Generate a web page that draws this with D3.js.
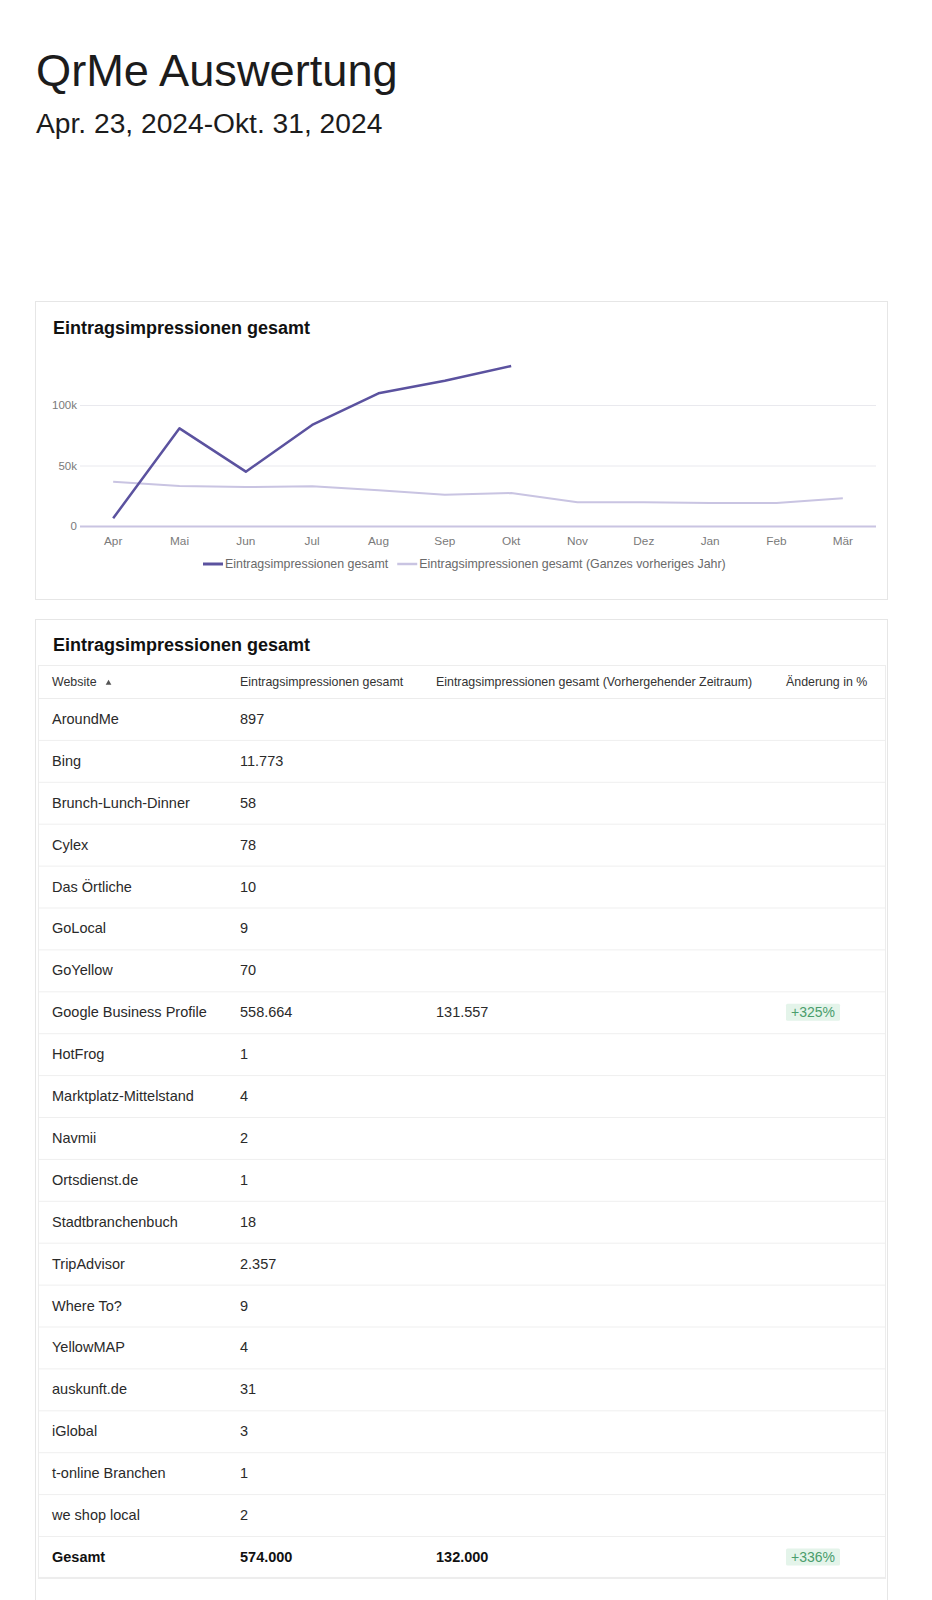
<!DOCTYPE html>
<html>
<head>
<meta charset="utf-8">
<script src="https://cdn.jsdelivr.net/npm/d3@7"></script>
<style>
  html, body { margin: 0; padding: 0; background: #fff; }
  svg { display: block; font-family: "Liberation Sans", Arial, sans-serif; }
</style>
</head>
<body>
<svg id="page" width="932" height="1600"></svg>
<script>
// ---------- DATA ----------
const pageTitle = "QrMe Auswertung";
const pageSubtitle = "Apr. 23, 2024-Okt. 31, 2024";
const chartTitle = "Eintragsimpressionen gesamt";
const months = ["Apr","Mai","Jun","Jul","Aug","Sep","Okt","Nov","Dez","Jan","Feb","Mär"];
const currentSeries = [6400, 80700, 44900, 83500, 109700, 120000, 132200];
const previousYearSeries = [36600, 33000, 32200, 32800, 29500, 25900, 27200, 19600, 19600, 19000, 19000, 22900];
const yTicks = [0, 50000, 100000];
const legendLabels = ["Eintragsimpressionen gesamt", "Eintragsimpressionen gesamt (Ganzes vorheriges Jahr)"];

const tableTitle = "Eintragsimpressionen gesamt";
const tableHeaders = ["Website", "Eintragsimpressionen gesamt", "Eintragsimpressionen gesamt (Vorhergehender Zeitraum)", "Änderung in %"];
const websites = ["AroundMe","Bing","Brunch-Lunch-Dinner","Cylex","Das Örtliche","GoLocal","GoYellow","Google Business Profile","HotFrog","Marktplatz-Mittelstand","Navmii","Ortsdienst.de","Stadtbranchenbuch","TripAdvisor","Where To?","YellowMAP","auskunft.de","iGlobal","t-online Branchen","we shop local"];
const impressions = [897, 11773, 58, 78, 10, 9, 70, 558664, 1, 4, 2, 1, 18, 2357, 9, 4, 31, 3, 1, 2];
const previousPeriod = [null, null, null, null, null, null, null, 131557, null, null, null, null, null, null, null, null, null, null, null, null];
const changeLabels = [null, null, null, null, null, null, null, "+325%", null, null, null, null, null, null, null, null, null, null, null, null];
const totalLabel = "Gesamt";
const totalImpressions = 574000;
const totalPrevious = 132000;
const totalChange = "+336%";

// ---------- SETUP ----------
const de = d3.formatLocale({decimal: ",", thousands: ".", grouping: [3], currency: ["", " €"]});
const fmt = de.format(",d");
const svg = d3.select("#page");

const C = {
  dark: "#5b529f",
  light: "#c9c4e2",
  grid: "#e9e9ee",
  axisText: "#7a7a7a",
  text: "#2a2a2a",
  border: "#e6e6e6"
};

// ---------- PAGE HEADER ----------
svg.append("text").attr("x", 36).attr("y", 86)
  .attr("font-size", 45.2).attr("fill", "#1c1c1c").text(pageTitle);
svg.append("text").attr("x", 36).attr("y", 133)
  .attr("font-size", 28.2).attr("fill", "#1c1c1c").text(pageSubtitle);

// ---------- CHART CARD ----------
svg.append("rect").attr("x", 35.5).attr("y", 301.5).attr("width", 852).attr("height", 298)
  .attr("fill", "#fff").attr("stroke", C.border);
svg.append("text").attr("x", 53).attr("y", 334).attr("font-size", 18).attr("font-weight", "bold")
  .attr("fill", "#111").text(chartTitle);

const x = d3.scaleBand().domain(months).range([80, 876]);
const y = d3.scaleLinear().domain([0, 150000]).range([526, 344.5]);

const yAxis = d3.axisLeft(y).tickValues(yTicks)
  .tickFormat(d => d === 0 ? "0" : (d / 1000) + "k")
  .tickSize(-(876 - 80)).tickPadding(3);
const gy = svg.append("g").attr("transform", "translate(80,0)").call(yAxis);
gy.select(".domain").remove();
gy.selectAll(".tick line").attr("stroke", C.grid).attr("stroke-width", 1);
gy.selectAll(".tick").filter(d => d === 0).select("line")
  .attr("stroke", C.light).attr("stroke-width", 2);
gy.selectAll(".tick text").attr("fill", C.axisText).attr("font-size", 11.5)
  .attr("font-family", "Liberation Sans, Arial, sans-serif");

const xAxis = d3.axisBottom(x).tickSize(0).tickPadding(10);
const gx = svg.append("g").attr("transform", "translate(0,527)").call(xAxis);
gx.select(".domain").remove();
gx.selectAll(".tick text").attr("fill", C.axisText).attr("font-size", 11.8)
  .attr("font-family", "Liberation Sans, Arial, sans-serif");

const line = d3.line().x((d, i) => x(months[i]) + x.bandwidth() / 2).y(d => y(d));
svg.append("path").datum(previousYearSeries).attr("d", line)
  .attr("fill", "none").attr("stroke", C.light).attr("stroke-width", 2).attr("stroke-linejoin", "round");
svg.append("path").datum(currentSeries).attr("d", line)
  .attr("fill", "none").attr("stroke", C.dark).attr("stroke-width", 2.5).attr("stroke-linejoin", "round");

// legend
const legendY = 564;
let lx = 203;
[C.dark, C.light].forEach((col, i) => {
  svg.append("line").attr("x1", lx).attr("x2", lx + 20).attr("y1", legendY).attr("y2", legendY)
    .attr("stroke", col).attr("stroke-width", i === 0 ? 3 : 2.5);
  const t = svg.append("text").attr("x", lx + 22).attr("y", legendY + 4.3)
    .attr("font-size", 12.4).attr("fill", "#6a6a6a").text(legendLabels[i]);
  lx = lx + 22 + t.node().getComputedTextLength() + 9;
});

// ---------- TABLE CARD ----------
svg.append("rect").attr("x", 35.5).attr("y", 619.5).attr("width", 852).attr("height", 1000)
  .attr("fill", "#fff").attr("stroke", C.border);
svg.append("text").attr("x", 53).attr("y", 651).attr("font-size", 18).attr("font-weight", "bold")
  .attr("fill", "#111").text(tableTitle);

const rowH = 41.9;
const headerTop = 665, headerBottom = 698;
const nRows = websites.length + 1;
const tableBottom = headerBottom + nRows * rowH;
const colX = [52, 240, 436, 786];

// shadow + inner box
svg.append("rect").attr("x", 38).attr("y", headerTop + 1).attr("width", 848).attr("height", tableBottom - headerTop)
  .attr("fill", "#ececec");
svg.append("rect").attr("x", 38.5).attr("y", headerTop + 0.5).attr("width", 847).attr("height", tableBottom - headerTop - 1)
  .attr("fill", "#fff").attr("stroke", "#ededed");

// header
const hg = svg.append("g");
tableHeaders.forEach((h, i) => {
  hg.append("text").attr("x", colX[i]).attr("y", 685.5).attr("font-size", 12.4)
    .attr("fill", "#333").text(h);
});
const wLen = hg.select("text").node().getComputedTextLength();
hg.append("path").attr("d", d3.symbol(d3.symbolTriangle, 14)())
  .attr("transform", `translate(${colX[0] + wLen + 12},${683})`).attr("fill", "#555");
svg.append("line").attr("x1", 39).attr("x2", 885).attr("y1", headerBottom + 0.5).attr("y2", headerBottom + 0.5)
  .attr("stroke", "#ececec");

const rows = websites.map((w, i) => ({
  site: w, imp: fmt(impressions[i]),
  prev: previousPeriod[i] == null ? "" : fmt(previousPeriod[i]),
  change: changeLabels[i], bold: false
}));
rows.push({site: totalLabel, imp: fmt(totalImpressions), prev: fmt(totalPrevious), change: totalChange, bold: true});

const rg = svg.selectAll("g.row").data(rows).join("g").attr("class", "row")
  .attr("transform", (d, i) => `translate(0,${headerBottom + i * rowH})`);
rg.filter((d, i) => i > 0).append("line").attr("x1", 39).attr("x2", 885).attr("y1", 0.5).attr("y2", 0.5)
  .attr("stroke", "#efefef");
const fields = ["site", "imp", "prev"];
fields.forEach((f, ci) => {
  rg.append("text").attr("x", colX[ci]).attr("y", rowH / 2 + 5)
    .attr("font-size", 14.5).attr("font-weight", d => d.bold ? "bold" : "normal")
    .attr("fill", d => d.bold ? "#111" : C.text).text(d => d[f]);
});
const badge = rg.filter(d => d.change);
badge.append("rect").attr("x", colX[3]).attr("y", rowH / 2 - 8.5).attr("width", 54).attr("height", 17)
  .attr("rx", 1.5).attr("fill", "#e4f4ea");
badge.append("text").attr("x", colX[3] + 27).attr("y", rowH / 2 + 5).attr("text-anchor", "middle")
  .attr("font-size", 14).attr("fill", "#4a9d6c").text(d => d.change);
</script>
</body>
</html>
